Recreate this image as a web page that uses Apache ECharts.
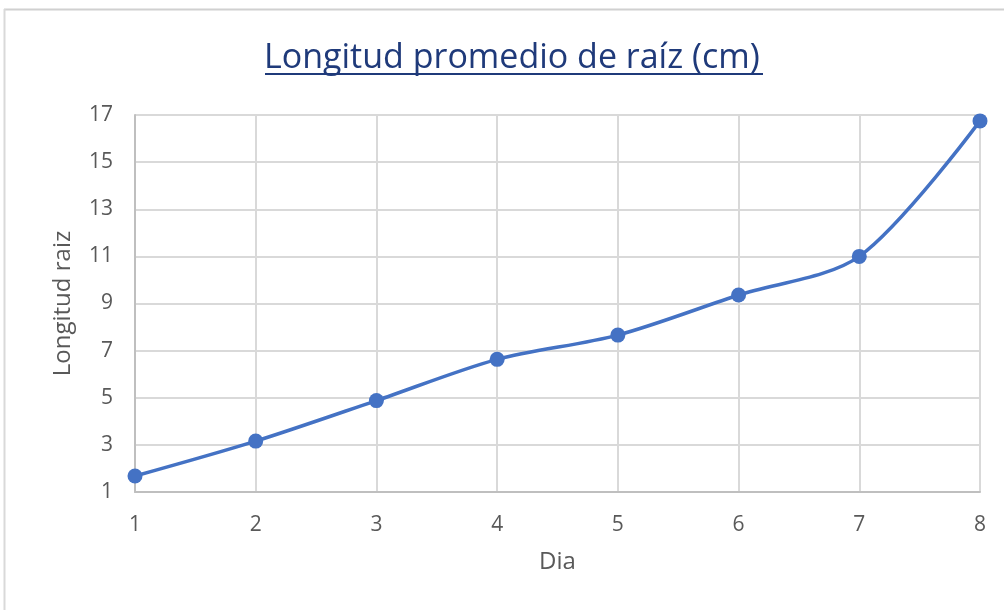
<!DOCTYPE html>
<html>
<head>
<meta charset="utf-8">
<script src="https://cdn.jsdelivr.net/npm/echarts@6/dist/echarts.min.js"></script>
<style>
  html, body { margin: 0; padding: 0; background: #fff; }
  #chart { width: 1004px; height: 610px; }
</style>
</head>
<body>
<div id="chart"></div>
<script>
var dias = [1, 2, 3, 4, 5, 6, 7, 8];
var longitud = [1.68, 3.16, 4.88, 6.63, 7.66, 9.36, 11.0, 16.75];

var myChart = echarts.init(document.getElementById('chart'));

var fuente = '"Open Sans", "Liberation Sans", sans-serif';

option = {
    backgroundColor: '#fff',
    animation: false,
    title: {
        text: 'Longitud promedio de raíz (cm)',
        left: 264,
        top: 41,
        padding: 0,
        textStyle: {
            color: '#1f3a7a',
            fontFamily: fuente,
            fontSize: 34,
            fontWeight: 'normal'
        }
    },
    graphic: [
        // underline of the title
        { type: 'line', shape: { x1: 265, y1: 74, x2: 763, y2: 74 },
          style: { stroke: '#1f3a7a', lineWidth: 2 } },
        // frame edges of the cropped chart
        { type: 'line', shape: { x1: 4, y1: 9.5, x2: 1004, y2: 9.5 },
          style: { stroke: '#d0d0d0', lineWidth: 2 } },
        { type: 'line', shape: { x1: 4.5, y1: 9, x2: 4.5, y2: 610 },
          style: { stroke: '#d9d9d9', lineWidth: 2 } }
    ],
    grid: { left: 135, right: 24, top: 115, bottom: 118 },
    xAxis: {
        type: 'value',
        min: 1,
        max: 8,
        interval: 1,
        name: 'Dia',
        nameLocation: 'middle',
        nameGap: 58,
        nameTextStyle: { color: '#595959', fontSize: 24, fontFamily: fuente },
        axisLine: { show: true, lineStyle: { color: '#bfbfbf', width: 2 } },
        axisTick: { show: false },
        axisLabel: { color: '#595959', fontSize: 21, fontFamily: fuente, margin: 23 },
        splitLine: { show: true, lineStyle: { color: '#d9d9d9', width: 2 } }
    },
    yAxis: {
        type: 'value',
        min: 1,
        max: 17,
        interval: 2,
        name: 'Longitud raiz',
        nameLocation: 'middle',
        nameGap: 60,
        nameTextStyle: { color: '#595959', fontSize: 24, fontFamily: fuente },
        axisLine: { show: true, lineStyle: { color: '#bfbfbf', width: 2 } },
        axisTick: { show: false },
        axisLabel: { color: '#595959', fontSize: 21, fontFamily: fuente, margin: 22 },
        splitLine: { show: true, lineStyle: { color: '#d9d9d9', width: 2 } }
    },
    series: [{
        name: 'Longitud',
        type: 'line',
        data: dias.map(function (d, i) { return [d, longitud[i]]; }),
        smooth: 0.3,
        symbol: 'circle',
        symbolSize: 15,
        lineStyle: { color: '#4472c4', width: 3.5 },
        itemStyle: { color: '#4472c4' }
    }]
};

myChart.setOption(option);
</script>
</body>
</html>
